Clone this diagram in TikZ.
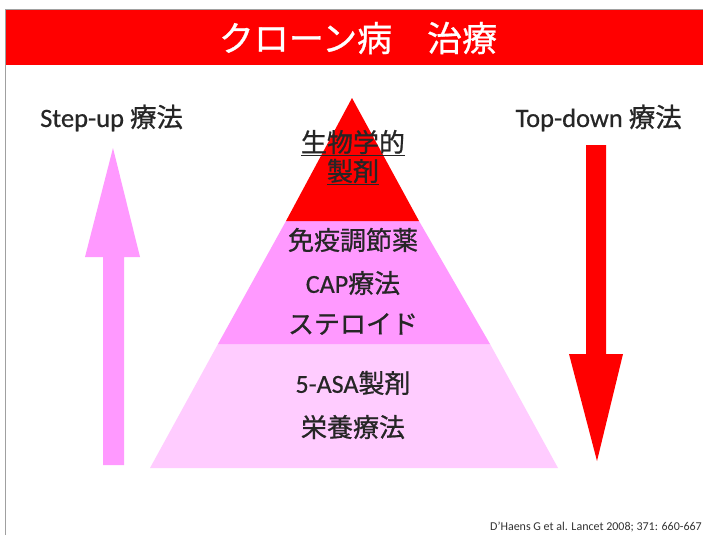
\documentclass[tikz,border=0pt]{standalone}
\usepackage{fontspec}
\setmainfont{Carlito}
\newfontfamily\cjk[FakeBold=0.8]{Noto Sans CJK JP}
\newfontfamily\latb[FakeBold=0.5]{Carlito}
\definecolor{pmid}{HTML}{FF99FF}
\definecolor{plight}{HTML}{FFCCFF}
\definecolor{frame}{HTML}{A0A0A0}
\begin{document}
\begin{tikzpicture}[x=1pt,y=-1pt,
  titletext/.style={text=white,font=\cjk\fontsize{35}{38}\selectfont,inner sep=0pt},
  sidetext/.style={text=black!85,font=\latb\fontsize{26.5}{30}\selectfont,inner sep=0pt},
  pyrtext/.style={text=black!85,font=\cjk\fontsize{26}{30}\selectfont,inner sep=0pt},
  citetext/.style={text=black!80,font=\fontsize{12}{14}\selectfont,inner sep=0pt}]
\useasboundingbox (0,0) rectangle (703,535);
\fill[white] (0,0) rectangle (703,535);
% frame and title band
\draw[frame,line width=1.2pt] (5.5,535) -- (5.5,9.5) -- (703,9.5);
\fill[red] (6,10) rectangle (703,65);
\node[titletext] (title) at (358,38) {クローン病　治療};
% pyramid
\fill[plight] (218,344) -- (490,344) -- (558,468) -- (150,468) -- cycle;
\fill[pmid] (286,221) -- (419,221) -- (490,344) -- (218,344) -- cycle;
\fill[red] (352,98) -- (419,221) -- (286,221) -- cycle;
% pyramid labels
\node[pyrtext] (bio1) at (353,143) {\underline{生物学的}};
\node[pyrtext] (bio2) at (353,172) {\underline{製剤}};
\node[pyrtext] (imm) at (353,240) {免疫調節薬};
\node[pyrtext] (cap) at (353,283) {{\latb CAP}療法};
\node[pyrtext] (ster) at (353,324) {ステロイド};
\node[pyrtext] (asa) at (353,383) {{\latb 5-ASA}製剤};
\node[pyrtext] (nut) at (353,427) {栄養療法};
% side arrows
\fill[pmid] (103,465) -- (103,257) -- (85,257) -- (113,148) -- (140,257) -- (124,257) -- (124,465) -- cycle;
\fill[red] (586,145) -- (606,145) -- (606,354) -- (623,354) -- (597,461) -- (569,354) -- (586,354) -- cycle;
% side labels
\node[sidetext,anchor=west] (stepup) at (40,118) {Step-up {\cjk 療法}};
\node[sidetext,anchor=east] (topdown) at (682,118) {Top-down {\cjk 療法}};
% citation
\node[citetext,anchor=east] (cite) at (702,527) {D’Haens G et al. Lancet 2008; 371: 660-667};
\end{tikzpicture}
\end{document}
